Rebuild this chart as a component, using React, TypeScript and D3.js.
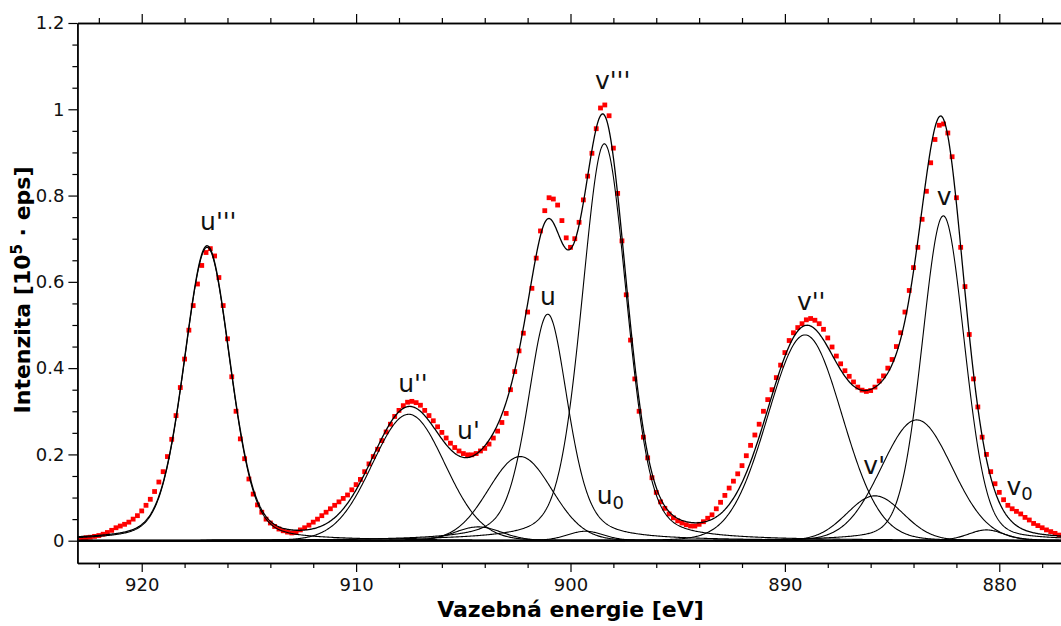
import { useEffect, useRef } from "react";
import * as d3 from "d3";

// Size of the picture and of the plot area
const width = 1061;
const height = 626;
const plotLeft = 77.4;
const plotRight = 1063.6;
const plotTop = 23;
const plotBottom = 563;

const dataStart = 923.0;
const dataStep = 0.2;
const intensity = [
    0.004, 0.005, 0.007, 0.008, 0.010, 0.012, 0.015, 0.019, 0.024, 0.030,
    0.034, 0.038, 0.043, 0.050, 0.058, 0.069, 0.082, 0.096, 0.114, 0.136,
    0.160, 0.195, 0.235, 0.290, 0.355, 0.421, 0.488, 0.545, 0.595, 0.638,
    0.668, 0.677, 0.660, 0.610, 0.545, 0.468, 0.380, 0.300, 0.236, 0.190,
    0.143, 0.108, 0.083, 0.066, 0.050, 0.041, 0.033, 0.027, 0.023, 0.020,
    0.018, 0.019, 0.025, 0.030, 0.036, 0.043, 0.050, 0.058, 0.066, 0.074,
    0.082, 0.090, 0.098, 0.106, 0.118, 0.130, 0.142, 0.160, 0.178, 0.195,
    0.212, 0.232, 0.252, 0.270, 0.288, 0.302, 0.313, 0.321, 0.323, 0.320,
    0.314, 0.302, 0.290, 0.278, 0.264, 0.251, 0.238, 0.226, 0.216, 0.208,
    0.202, 0.199, 0.199, 0.202, 0.208, 0.214, 0.224, 0.238, 0.254, 0.274,
    0.295, 0.350, 0.392, 0.440, 0.481, 0.530, 0.585, 0.655, 0.718, 0.765,
    0.795, 0.792, 0.778, 0.742, 0.702, 0.680, 0.700, 0.738, 0.790, 0.845,
    0.898, 0.955, 1.003, 1.010, 0.985, 0.910, 0.805, 0.695, 0.570, 0.465,
    0.375, 0.300, 0.240, 0.192, 0.146, 0.112, 0.090, 0.075, 0.062, 0.053,
    0.046, 0.041, 0.037, 0.034, 0.034, 0.038, 0.044, 0.052, 0.060, 0.074,
    0.089, 0.105, 0.122, 0.138, 0.155, 0.174, 0.197, 0.221, 0.245, 0.270,
    0.300, 0.327, 0.350, 0.378, 0.407, 0.436, 0.464, 0.482, 0.494, 0.503,
    0.512, 0.515, 0.511, 0.503, 0.490, 0.470, 0.449, 0.428, 0.410, 0.394,
    0.381, 0.368, 0.356, 0.349, 0.346, 0.348, 0.356, 0.370, 0.382, 0.400,
    0.420, 0.450, 0.482, 0.530, 0.580, 0.633, 0.680, 0.745, 0.810, 0.876,
    0.930, 0.963, 0.966, 0.945, 0.890, 0.795, 0.680, 0.589, 0.478, 0.375,
    0.310, 0.240, 0.200, 0.160, 0.132, 0.112, 0.095, 0.082, 0.074, 0.068,
    0.062, 0.054, 0.048, 0.040, 0.035, 0.030, 0.025, 0.021, 0.017, 0.013,
    0.010,
];

// Fitted components (pseudo-Voigt): centre [eV], height, FWHM [eV], Lorentz fraction
const peakCenters = [916.95, 907.55, 904.3, 902.35, 901.06, 899.3, 898.42, 889.06, 885.8, 883.85, 882.61, 880.6];
const peakHeights = [0.680, 0.293, 0.032, 0.195, 0.525, 0.022, 0.920, 0.477, 0.104, 0.280, 0.753, 0.025];
const peakWidths = [2.55, 4.0, 2.6, 3.5, 2.25, 2.0, 2.5, 4.1, 3.1, 3.9, 2.35, 2.0];
const peakMix = [0.25, 0.05, 0.1, 0.05, 0.45, 0.2, 0.3, 0.05, 0.05, 0.05, 0.2, 0.2];

// Peak labels: text, subscript, anchor (energy, intensity)
const labelText = ["u'''", "u''", "u'", "u", "u", "v'''", "v''", "v'", "v", "v"];
const labelSub = ["", "", "", "", "0", "", "", "", "", "0"];
const labelEnergy = [917.28, 908.04, 905.29, 901.42, 898.78, 898.86, 889.44, 886.34, 882.92, 879.66];
const labelValue = [0.721, 0.345, 0.236, 0.547, 0.085, 1.046, 0.535, 0.155, 0.778, 0.106];

// Axis ticks
const xMajor = [920, 910, 900, 890, 880];
const xMinor = [922, 918, 916, 914, 912, 908, 906, 904, 902, 898, 896, 894, 892, 888, 886, 884, 882, 878];
const yMajor = [0, 0.2, 0.4, 0.6, 0.8, 1, 1.2];
const yMinor = [0.05, 0.1, 0.15, 0.25, 0.3, 0.35, 0.45, 0.5, 0.55, 0.65, 0.7, 0.75, 0.85, 0.9, 0.95, 1.05, 1.1, 1.15];

const font = "'DejaVu Sans', sans-serif";

const pseudoVoigt = (e, i) => {
    const t = (2 * (e - peakCenters[i])) / peakWidths[i];
    const g = Math.exp(-Math.LN2 * t * t);
    const l = 1 / (1 + t * t);
    return peakHeights[i] * ((1 - peakMix[i]) * g + peakMix[i] * l);
};

const drawChart = (node) => {
    const svg = d3.select(node);
    svg.selectAll("*").remove();

    const x = d3.scaleLinear().domain([923, 877]).range([plotLeft, plotRight]);
    const y = d3.scaleLinear().domain([-0.0517, 1.2]).range([plotBottom, plotTop]);

    svg.append("defs").append("clipPath").attr("id", "plot-clip")
        .append("rect")
        .attr("x", plotLeft).attr("y", plotTop)
        .attr("width", plotRight - plotLeft).attr("height", plotBottom - plotTop);

    const plot = svg.append("g").attr("clip-path", "url(#plot-clip)");

    // measured points
    const points = intensity.map((v, i) => [dataStart - i * dataStep, v]);
    plot.append("g")
        .selectAll("rect")
        .data(points)
        .join("rect")
            .attr("x", d => x(d[0]) - 2.4)
            .attr("y", d => y(d[1]) - 2.4)
            .attr("width", 4.8)
            .attr("height", 4.8)
            .attr("fill", "#ff0000");

    // zero line
    plot.append("line")
        .attr("x1", plotLeft).attr("x2", plotRight)
        .attr("y1", y(0)).attr("y2", y(0))
        .attr("stroke", "black").attr("stroke-width", 2);

    // components and envelope
    const grid = d3.range(877, 923.001, 0.04);
    const line = d3.line().x(d => x(d[0])).y(d => y(d[1]));
    peakCenters.forEach((_, i) => {
        plot.append("path")
            .attr("d", line(grid.map(e => [e, pseudoVoigt(e, i)])))
            .attr("fill", "none").attr("stroke", "black").attr("stroke-width", 1.1);
    });
    const envelope = grid.map(e => [e, d3.sum(peakCenters, (_, i) => pseudoVoigt(e, i))]);
    plot.append("path")
        .attr("d", line(envelope))
        .attr("fill", "none").attr("stroke", "black").attr("stroke-width", 1.3);

    // axes
    const styleAxis = (g) => {
        g.selectAll(".domain").attr("stroke", "black").attr("stroke-width", 1.4);
        g.selectAll(".tick line").attr("stroke", "black").attr("stroke-width", 1.2);
        g.selectAll(".tick text").attr("font-family", font).attr("font-size", 18).attr("fill", "#111");
    };
    svg.append("g").attr("transform", `translate(0,${plotBottom})`)
        .call(d3.axisBottom(x).tickValues(xMajor).tickSize(9).tickSizeOuter(0).tickPadding(6).tickFormat(d3.format("d")))
        .call(styleAxis);
    svg.append("g").attr("transform", `translate(0,${plotBottom})`)
        .call(d3.axisBottom(x).tickValues(xMinor).tickSize(5).tickSizeOuter(0).tickFormat(() => ""))
        .call(styleAxis);
    svg.append("g").attr("transform", `translate(0,${plotTop})`)
        .call(d3.axisTop(x).tickValues(xMajor).tickSize(9).tickSizeOuter(0).tickFormat(() => ""))
        .call(styleAxis);
    svg.append("g").attr("transform", `translate(0,${plotTop})`)
        .call(d3.axisTop(x).tickValues(xMinor).tickSize(5).tickSizeOuter(0).tickFormat(() => ""))
        .call(styleAxis);
    svg.append("g").attr("transform", `translate(${plotLeft},0)`)
        .call(d3.axisLeft(y).tickValues(yMajor).tickSize(9).tickSizeOuter(0).tickPadding(4).tickFormat(d3.format("~g")))
        .call(styleAxis);
    svg.append("g").attr("transform", `translate(${plotLeft},0)`)
        .call(d3.axisLeft(y).tickValues(yMinor).tickSize(5).tickSizeOuter(0).tickFormat(() => ""))
        .call(styleAxis);

    // peak labels
    const labels = svg.append("g")
        .attr("font-family", font)
        .attr("font-size", 25)
        .attr("fill", "#111");
    labelText.forEach((t, i) => {
        const text = labels.append("text")
            .attr("x", x(labelEnergy[i]))
            .attr("y", y(labelValue[i]))
            .text(t);
        if (labelSub[i]) {
            text.append("tspan").attr("font-size", 18).attr("dy", 5).text(labelSub[i]);
        }
    });

    // axis titles
    svg.append("text")
        .attr("x", (plotLeft + plotRight) / 2)
        .attr("y", 617)
        .attr("text-anchor", "middle")
        .attr("font-family", font)
        .attr("font-size", 22)
        .attr("font-weight", "bold")
        .text("Vazebná energie [eV]");

    const yTitle = svg.append("text")
        .attr("transform", `translate(30,${(plotTop + plotBottom) / 2 - 3}) rotate(-90)`)
        .attr("text-anchor", "middle")
        .attr("font-family", font)
        .attr("font-size", 22)
        .attr("font-weight", "bold");
    yTitle.append("tspan").text("Intenzita [10");
    yTitle.append("tspan").attr("font-size", 15).attr("dy", -8).text("5");
    yTitle.append("tspan").attr("dy", 8).text(" · eps]");
};

export default function App() {
    const ref = useRef(null);

    useEffect(() => {
        drawChart(ref.current);
    }, []);

    return (
        <svg
            ref={ref}
            width={width}
            height={height}
            style={{ position: "absolute", left: 0, top: 0, background: "white" }}
        />
    );
}
